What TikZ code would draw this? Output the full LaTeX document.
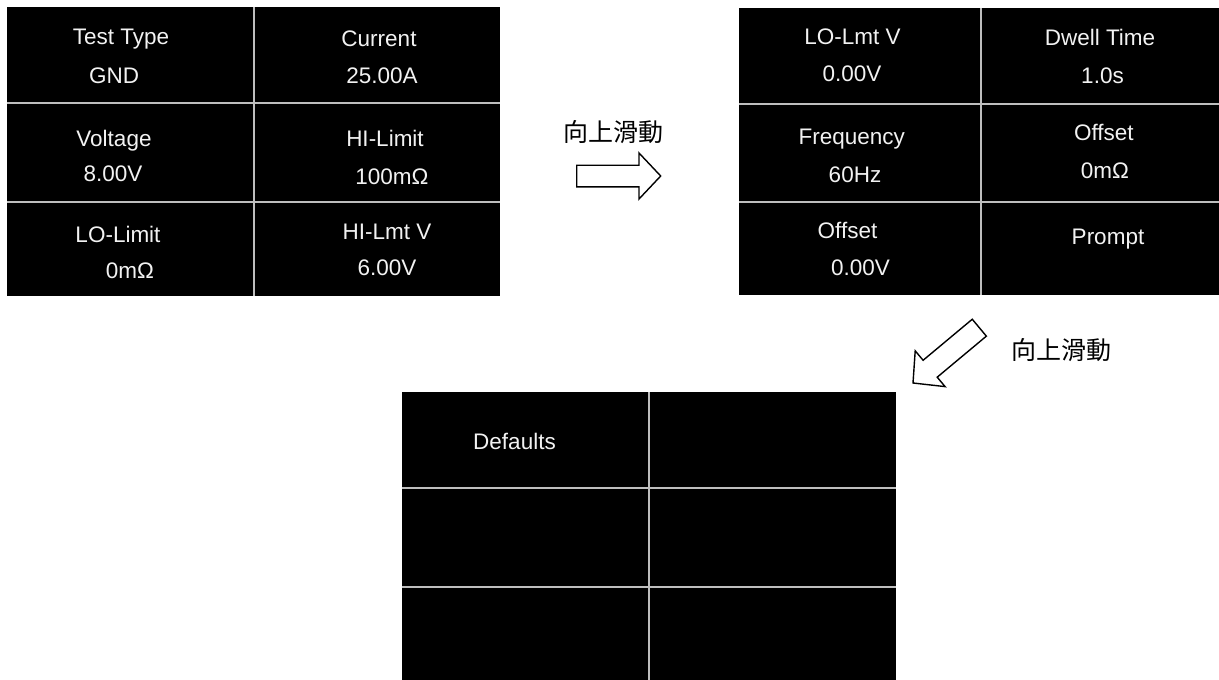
\documentclass[tikz,border=0pt]{standalone}
\usepackage{fontspec}
\setmainfont{Liberation Sans}
\newfontfamily\cjk{Noto Sans CJK TC}
\definecolor{gridgray}{HTML}{BEBEBE}
\definecolor{txt}{HTML}{F2F2F2}
\begin{document}
\begin{tikzpicture}[x=1pt,y=-1pt,
  panel/.style={fill=black, draw=none, inner sep=0pt, anchor=north west},
  divider/.style={draw=gridgray, line width=1.5pt},
  lbl/.style={text=txt, font=\fontsize{22.5}{27}\selectfont, anchor=base, inner sep=0pt},
  cjklbl/.style={font=\cjk\fontsize{25}{30}\selectfont, anchor=base, inner sep=0pt},
  blockarrow/.style={draw=black, line width=1.4pt, fill=white, line join=miter}]
\useasboundingbox (0,0) rectangle (1219,680);

% panels
\node[panel, minimum width=493pt, minimum height=289pt] (p1) at (7,7) {};
\node[panel, minimum width=480pt, minimum height=287pt] (p2) at (739,8) {};
\node[panel, minimum width=494pt, minimum height=288pt] (p3) at (402,392) {};

% dividers
\draw[divider] (254,7) -- (254,296);
\draw[divider] (7,103) -- (500,103);
\draw[divider] (7,202) -- (500,202);

\draw[divider] (981,8) -- (981,295);
\draw[divider] (739,104) -- (1219,104);
\draw[divider] (739,202) -- (1219,202);

\draw[divider] (649,392) -- (649,680);
\draw[divider] (402,488) -- (896,488);
\draw[divider] (402,587) -- (896,587);

% panel 1 texts
\node[lbl] (t1a) at (121,45) {Test Type};
\node[lbl] (t1b) at (114,83) {GND};
\node[lbl] (t2a) at (379,46.5) {Current};
\node[lbl] (t2b) at (382,83) {25.00A};
\node[lbl] (t3a) at (114,146) {Voltage};
\node[lbl] (t3b) at (113,181.7) {8.00V};
\node[lbl] (t4a) at (385,146.7) {HI-Limit};
\node[lbl] (t4b) at (392,184) {100mΩ};
\node[lbl] (t5a) at (118,242) {LO-Limit};
\node[lbl] (t5b) at (130,278) {0mΩ};
\node[lbl] (t6a) at (387,239) {HI-Lmt V};
\node[lbl] (t6b) at (387,275) {6.00V};

% panel 2 texts
\node[lbl] (u1a) at (852.5,45) {LO-Lmt V};
\node[lbl] (u1b) at (852,81.7) {0.00V};
\node[lbl] (u2a) at (1100,45.7) {Dwell Time};
\node[lbl] (u2b) at (1102.5,83.3) {1.0s};
\node[lbl] (u3a) at (851.7,144) {Frequency};
\node[lbl] (u3b) at (855,182.7) {60Hz};
\node[lbl] (u4a) at (1103.8,140) {Offset};
\node[lbl] (u4b) at (1105,178.3) {0mΩ};
\node[lbl] (u5a) at (847.5,238.3) {Offset};
\node[lbl] (u5b) at (860.5,275.7) {0.00V};
\node[lbl] (u6a) at (1108,244) {Prompt};

% panel 3 text
\node[lbl] (v1a) at (514.5,449) {Defaults};

% arrows
\draw[blockarrow] (576.7,165.2) -- (639,165.2) -- (639,153) -- (660.7,176)
  -- (639,199) -- (639,186.8) -- (576.7,186.8) -- cycle;
\node[cjklbl] (lab1) at (613,141) {向上滑動};

\draw[blockarrow] (972.25,319.25) -- (923.1,360.27) -- (915.21,350.83) -- (913,383)
  -- (945.09,386.61) -- (937.2,377.17) -- (986.35,336.15) -- cycle;
\node[cjklbl] (lab2) at (1061.7,359.5) {向上滑動};
\end{tikzpicture}
\end{document}
